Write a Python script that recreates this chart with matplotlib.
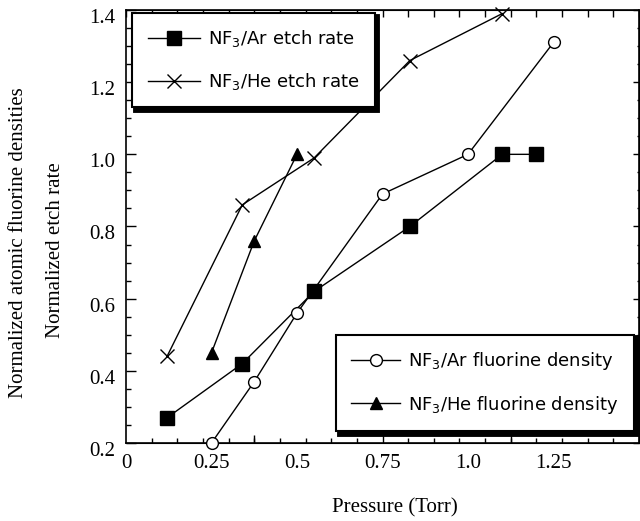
import matplotlib
matplotlib.use('Agg')
import matplotlib.pyplot as plt
import matplotlib.transforms as mtransforms
from matplotlib.ticker import MultipleLocator, FixedLocator
import numpy as np

# ---- data ----
ar_etch_p = [0.12, 0.34, 0.55, 0.83, 1.10, 1.20]
ar_etch = [0.27, 0.42, 0.62, 0.80, 1.00, 1.00]
he_etch_p = [0.12, 0.34, 0.55, 0.83, 1.10]
he_etch = [0.44, 0.86, 0.99, 1.26, 1.39]
ar_f_p = [0.25, 0.375, 0.50, 0.75, 1.00, 1.25]
ar_f = [0.20, 0.37, 0.56, 0.89, 1.00, 1.31]
he_f_p = [0.25, 0.375, 0.50]
he_f = [0.45, 0.76, 1.00]

x_tick_values = [0, 0.25, 0.5, 0.75, 1.0, 1.25]
x_tick_labels = ['0', '0.25', '0.5', '0.75', '1.0', '1.25']
y_tick_values = [0.2, 0.4, 0.6, 0.8, 1.0, 1.2, 1.4]
y_tick_labels = ['0.2', '0.4', '0.6', '0.8', '1.0', '1.2', '1.4']

labels = [r'NF$_3$/Ar etch rate', r'NF$_3$/He etch rate',
          r'NF$_3$/Ar fluorine density', r'NF$_3$/He fluorine density']

plt.rcParams['mathtext.fontset'] = 'dejavusans'

serif = 'Liberation Serif'
sans = 'DejaVu Sans'

fig = plt.figure(figsize=(6.4, 5.21), dpi=100)
W, H = 640, 521
x0, x1, ytop, ybot = 126, 639, 10, 443
ax = fig.add_axes([x0 / W, 1 - ybot / H, (x1 - x0) / W, (ybot - ytop) / H])

lw = 1.0
l_ar_etch, = ax.plot(ar_etch_p, ar_etch, color='black', lw=lw, marker='s',
                     ms=9.5, mfc='black', mec='black', clip_on=False, zorder=3)
l_he_etch, = ax.plot(he_etch_p, he_etch, color='black', lw=lw, marker='x',
                     ms=10, mew=1.0, clip_on=False, zorder=3)
l_ar_f, = ax.plot(ar_f_p, ar_f, color='black', lw=lw, marker='o',
                  ms=8.5, mfc='white', mec='black', mew=1.0, clip_on=False, zorder=3)
l_he_f, = ax.plot(he_f_p, he_f, color='black', lw=lw, marker='^',
                  ms=8, mfc='black', mec='black', clip_on=False, zorder=3)

ax.set_xlim(0, 1.5)
ax.set_ylim(0.2, 1.4)

for s in ax.spines.values():
    s.set_linewidth(1.2)

# x axis: labels only on majors; marks on minors
ax.xaxis.set_major_locator(FixedLocator(x_tick_values))
ax.set_xticklabels(x_tick_labels, fontfamily=serif, fontsize=15)
ax.xaxis.set_minor_locator(MultipleLocator(0.075))
ax.tick_params(axis='x', which='major', length=0, pad=8)
ax.tick_params(axis='x', which='minor', direction='in', length=3.3, width=1.0,
               top=False, bottom=True)

secb = ax.secondary_xaxis('bottom')
secb.xaxis.set_major_locator(FixedLocator([0.375, 0.75, 1.125]))
secb.tick_params(axis='x', direction='in', length=6, width=1.0, labelbottom=False)
secb.xaxis.set_minor_locator(FixedLocator([]))

sect = ax.secondary_xaxis('top')
sect.xaxis.set_major_locator(MultipleLocator(0.075))
sect.tick_params(axis='x', direction='in', length=5, width=1.0, labeltop=False)

# y axis
ax.yaxis.set_major_locator(FixedLocator(y_tick_values))
ax.set_yticklabels(y_tick_labels, fontfamily=serif, fontsize=15)
ax.yaxis.set_minor_locator(MultipleLocator(0.05))
ax.tick_params(axis='y', which='major', direction='in', length=7, width=1.0, pad=8,
               right=False)
ax.tick_params(axis='y', which='minor', direction='in', length=3.5, width=1.0,
               right=False)
off = mtransforms.ScaledTranslation(0, -6 / 100, fig.dpi_scale_trans)
for lab in ax.get_yticklabels():
    lab.set_transform(lab.get_transform() + off)

secr = ax.secondary_yaxis('right')
secr.yaxis.set_major_locator(FixedLocator(y_tick_values))
secr.yaxis.set_minor_locator(MultipleLocator(0.05))
secr.tick_params(axis='y', which='major', direction='in', length=4, width=1.0,
                 labelright=False)
secr.tick_params(axis='y', which='minor', direction='in', length=1.8, width=1.0)

# legends
shadow = {'color': 'black', 'alpha': 1, 'linewidth': 3.5}
common = dict(borderaxespad=0, prop={'family': sans, 'size': 13}, frameon=True,
              fancybox=False, edgecolor='black', framealpha=1, shadow=shadow,
              handletextpad=0.45, labelspacing=1.2, borderpad=0.85)
leg1 = ax.legend([l_ar_etch, l_he_etch], labels[:2], loc='upper left',
                 bbox_to_anchor=(0.012, 0.993), handlelength=2.9, **common)
leg1.get_frame().set_linewidth(1.5)
ax.add_artist(leg1)
leg2 = ax.legend([l_ar_f, l_he_f], labels[2:], loc='lower right',
                 bbox_to_anchor=(0.99, 0.028), handlelength=2.7, **common)
leg2.get_frame().set_linewidth(1.5)

# axis titles
fig.text(19 / W, 1 - 243 / H, 'Normalized atomic fluorine densities', rotation=90,
         ha='center', va='center', fontfamily=serif, fontsize=15)
fig.text(56 / W, 1 - 250 / H, 'Normalized etch rate', rotation=90,
         ha='center', va='center', fontfamily=serif, fontsize=15)
fig.text(395 / W, 1 - 508 / H, 'Pressure (Torr)', ha='center', va='center',
         fontfamily=serif, fontsize=15)

fig.savefig('out.png', dpi=100)
